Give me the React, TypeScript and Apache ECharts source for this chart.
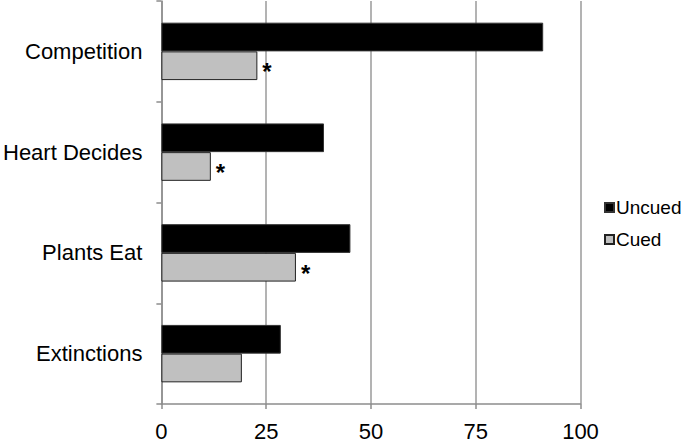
import React, { useEffect, useRef } from "react";
import * as echarts from "echarts";

const categories = ["Competition", "Heart Decides", "Plants Eat", "Extinctions"];
const uncued = [91.1, 38.8, 45.1, 28.5];
const cued = [22.9, 11.8, 32.1, 19.2];
const significant = [true, true, true, false];
const xTicks = [0, 25, 50, 75, 100];

export default function App() {
  const ref = useRef<HTMLDivElement>(null);
  useEffect(() => {
    if (!ref.current) return;
    const chart = echarts.init(ref.current, null, { renderer: "svg" });
    chart.setOption({
      animation: false,
      textStyle: { fontFamily: "Liberation Sans, Arial, sans-serif" },
      grid: { left: 159.5, top: 1, width: 421, height: 403, containLabel: false },
      legend: {
        orient: "vertical",
        left: 599,
        top: 193,
        itemWidth: 9,
        itemHeight: 9,
        itemGap: 13,
        icon: "rect",
        textStyle: { fontSize: 19, color: "#000", padding: [0, 0, 0, -3] },
        data: ["Uncued", "Cued"],
      },
      xAxis: {
        type: "value",
        min: xTicks[0],
        max: xTicks[xTicks.length - 1],
        interval: 25,
        axisLine: { show: true, lineStyle: { color: "#8c8c8c", width: 1.5 } },
        axisTick: { show: true, length: 5, lineStyle: { color: "#8c8c8c", width: 1.5 } },
        axisLabel: { fontSize: 22, color: "#000", margin: 16 },
        splitLine: { show: true, lineStyle: { color: "#9a9a9a", width: 1.5 } },
      },
      yAxis: {
        type: "category",
        data: categories,
        inverse: true,
        axisLine: { show: true, lineStyle: { color: "#8c8c8c", width: 1.5 } },
        axisTick: { show: true, length: 5, lineStyle: { color: "#8c8c8c", width: 1.5 } },
        axisLabel: { fontSize: 22, color: "#000", margin: 19 },
        splitLine: { show: false },
      },
      series: [
        {
          name: "Uncued",
          type: "bar",
          data: uncued,
          barGap: "0%",
          barCategoryGap: "43%",
          itemStyle: { color: "#000", borderColor: "#333", borderWidth: 1 },
        },
        {
          name: "Cued",
          type: "bar",
          data: cued.map((v, i) => ({
            value: v,
            label: {
              show: significant[i],
              position: "right",
              formatter: "*",
              fontSize: 24,
              fontWeight: "bold",
              color: "#000",
              distance: 5,
              offset: [0, 6],
            },
          })),
          barGap: "0%",
          barCategoryGap: "43%",
          itemStyle: { color: "#c0c0c0", borderColor: "#222", borderWidth: 1 },
        },
      ],
    });
    return () => chart.dispose();
  }, []);
  return <div ref={ref} style={{ width: 683, height: 442, position: "absolute", left: 0, top: 0 }} />;
}
